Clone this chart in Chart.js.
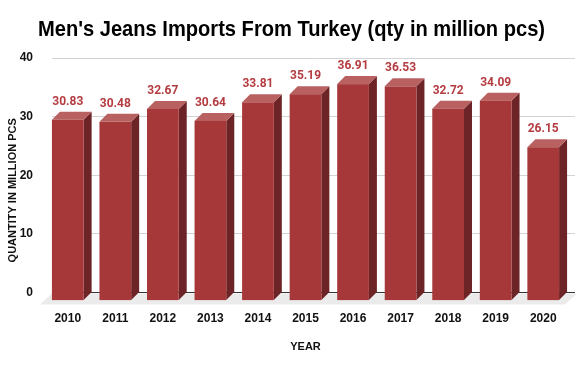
<!DOCTYPE html>
<html>
<head>
<meta charset="utf-8">
<script src="https://cdn.jsdelivr.net/npm/chart.js@4"></script>
<style>
  html, body { margin: 0; padding: 0; background: #fff; }
  canvas { display: block; }
</style>
</head>
<body>
<canvas id="jeansChart" width="585" height="371"></canvas>
<script>
const titleText = "Men's Jeans Imports From Turkey (qty in million pcs)";
const xTitle = "YEAR";
const yTitle = "QUANTITY IN MILLION PCS";
const years = ["2010","2011","2012","2013","2014","2015","2016","2017","2018","2019","2020"];
const imports = [30.83, 30.48, 32.67, 30.64, 33.81, 35.19, 36.91, 36.53, 32.72, 34.09, 26.15];
const yTicks = [0, 10, 20, 30, 40];

const depth = 8;
const frontColor = "#a6383a";
const sideColor = "#6c2426";
const topColor = "#b96061";
const labelColor = "#b43c40";
const axisFont = "'Liberation Sans', Arial, sans-serif";

// title is a condensed bold face, so squeeze a normal bold one to width
// axis titles sit on the front face, not the centre of the back plane
const titlesPlugin = {
    id: "titles",
    afterDraw(chart) {
        const ctx = chart.ctx;
        const area = chart.chartArea;
        ctx.save();
        ctx.fillStyle = "#000";
        ctx.textAlign = "center";
        ctx.textBaseline = "middle";
        ctx.font = "bold 22px " + axisFont;
        const w = ctx.measureText(titleText).width;
        ctx.save();
        ctx.translate(291.5, 30);
        ctx.scale(507 / w, 1);
        ctx.fillText(titleText, 0, 0);
        ctx.restore();

        ctx.fillStyle = "#111";
        ctx.font = "bold 11px " + axisFont;
        ctx.fillText(xTitle, (area.left + area.right) / 2 - depth, 347);

        ctx.translate(13, (area.top + area.bottom) / 2 + 15);
        ctx.rotate(-Math.PI / 2);
        ctx.fillText(yTitle, 0, 0);
        ctx.restore();
    }
};

const bar3dPlugin = {
    id: "bar3d",
    beforeDatasetsDraw(chart) {
        const ctx = chart.ctx;
        const { left, right } = chart.chartArea;
        const b = chart.scales.y.getPixelForValue(0);
        ctx.save();
        ctx.fillStyle = "#ebebeb";
        ctx.beginPath();
        ctx.moveTo(left, b + 1);
        ctx.lineTo(right + 2, b + 1);
        ctx.lineTo(right - 10, b + 12);
        ctx.lineTo(left - 12, b + 12);
        ctx.closePath();
        ctx.fill();
        ctx.restore();
    },
    afterDatasetsDraw(chart) {
        const ctx = chart.ctx;
        const meta = chart.getDatasetMeta(0);
        ctx.save();
        meta.data.forEach((bar, i) => {
            const { x, y, base, width } = bar.getProps(["x", "y", "base", "width"], true);
            const l = x - width / 2;
            const r = x + width / 2;
            // side
            ctx.fillStyle = sideColor;
            ctx.beginPath();
            ctx.moveTo(r, y);
            ctx.lineTo(r, base);
            ctx.lineTo(r - depth, base + depth);
            ctx.lineTo(r - depth, y + depth);
            ctx.closePath();
            ctx.fill();
            // top
            ctx.fillStyle = topColor;
            ctx.beginPath();
            ctx.moveTo(l, y);
            ctx.lineTo(r, y);
            ctx.lineTo(r - depth, y + depth);
            ctx.lineTo(l - depth, y + depth);
            ctx.closePath();
            ctx.fill();
            // front
            ctx.fillStyle = frontColor;
            ctx.fillRect(l - depth, y + depth, width, base - y);
            // value label
            ctx.fillStyle = labelColor;
            ctx.font = "bold 12px Roboto, sans-serif";
            ctx.textAlign = "center";
            ctx.textBaseline = "middle";
            ctx.fillText(imports[i].toFixed(2), x - depth, y - 10);
        });
        ctx.restore();
    }
};

const ctx = document.getElementById("jeansChart").getContext("2d");

const config = {
    type: "bar",
    data: {
        labels: years,
        datasets: [{
            label: "Imports",
            data: imports,
            backgroundColor: "rgba(0,0,0,0)",
            borderWidth: 0,
            categoryPercentage: 1,
            barPercentage: 0.667
        }]
    },
    options: {
        responsive: false,
        animation: false,
        devicePixelRatio: 1,
        layout: { padding: { top: 58, right: 10, left: 6, bottom: 26 } },
        plugins: {
            legend: { display: false },
            title: { display: false },
            tooltip: { enabled: false }
        },
        scales: {
            x: {
                grid: { display: false, drawTicks: false },
                border: { display: false },
                ticks: {
                    color: "#111",
                    font: { family: axisFont, size: 12, weight: "bold" },
                    padding: 19,
                    labelOffset: -depth,
                    maxRotation: 0
                }
            },
            y: {
                min: 0,
                max: 40,
                afterBuildTicks(axis) {
                    axis.ticks = yTicks.map(v => ({ value: v }));
                },
                afterFit(axis) {
                    axis.width = 46;
                },
                grid: {
                    drawTicks: false,
                    color: c => (c.tick && c.tick.value === 0 ? "#333" : "#d3d3d3"),
                    lineWidth: 1
                },
                border: { display: false },
                ticks: {
                    color: "#111",
                    font: { family: axisFont, size: 12, weight: "bold" },
                    padding: 19
                }
            }
        }
    },
    plugins: [bar3dPlugin, titlesPlugin]
};

const chart = new Chart(ctx, config);
</script>
</body>
</html>
